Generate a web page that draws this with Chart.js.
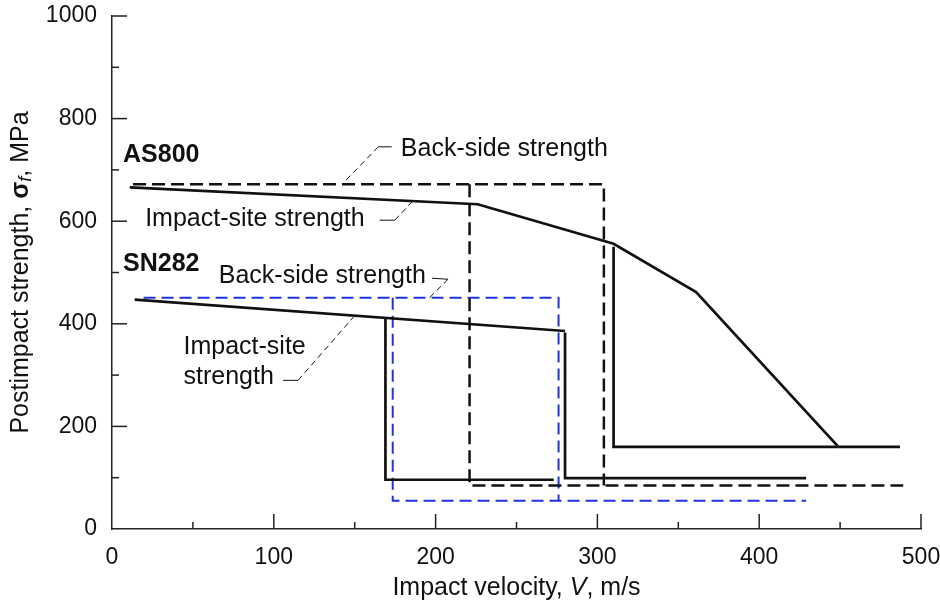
<!DOCTYPE html>
<html>
<head>
<meta charset="utf-8">
<script src="https://cdn.jsdelivr.net/npm/chart.js@4"></script>
<style>
  html, body { margin: 0; padding: 0; background: #fff; }
  #wrap { width: 940px; height: 602px; }
</style>
</head>
<body>
<div id="wrap"><canvas id="strengthChart"></canvas></div>
<script>
// axis ticks
const xTicks = [0, 100, 200, 300, 400, 500];
const yTicks = [0, 200, 400, 600, 800, 1000];

// AS800 impact-site strength (solid)
const as800SiteV = [11, 226, 310, 361, 449, 487];
const as800SiteS = [666, 633, 556, 462, 160, 160];
const as800DropV = [310, 310, 449];
const as800DropS = [550, 160, 160];

// AS800 back-side strength (dashed)
const as800BackV = [13, 304, 304];
const as800BackS = [672, 672, 85];
const as800BackDropV = [221, 221, 489];
const as800BackDropS = [672, 85, 85];

// SN282 impact-site strength (solid)
const sn282SiteV = [14, 280];
const sn282SiteS = [447, 386];
const sn282Drop1V = [169, 169, 273];
const sn282Drop1S = [410, 96, 96];
const sn282Drop2V = [280, 280, 429];
const sn282Drop2S = [383, 99, 99];

// SN282 back-side strength (blue dashed)
const sn282BackV = [19.5, 276, 276];
const sn282BackS = [451, 451, 55];
const sn282BackDropV = [173.5, 173.5, 429];
const sn282BackDropS = [451, 55, 55];

// leader lines for the labels: stub + dashed diagonal
const leaderStubs = [
    [[172.9, 745], [164.6, 745]],
    [[165.4, 602], [174.8, 602]],
    [[197.8, 488.8], [207.7, 486.8]],
    [[105.7, 289.8], [115.0, 289.8]]
];
const leaderDiags = [
    [[164.6, 745], [143.6, 676.7]],
    [[174.8, 602], [185.3, 637.6]],
    [[207.7, 486.8], [195.9, 449.8]],
    [[115.0, 289.8], [149.3, 413.3]]
];

const FONT = '"Liberation Sans", Arial, Helvetica, sans-serif';
const BLACK = '#111111';
const BLUE = '#2233dd';

const labels = [
    { text: 'AS800', v: 6.8, s: 729, bold: true },
    { text: 'Back-side strength', v: 178.5, s: 740.5 },
    { text: 'Impact-site strength', v: 20.5, s: 604 },
    { text: 'SN282', v: 6.8, s: 516, bold: true },
    { text: 'Back-side strength', v: 66, s: 492.7 },
    { text: 'Impact-site', v: 44.2, s: 354 },
    { text: 'strength', v: 44.2, s: 295.6 }
];

function pts(xs, ys) {
    return xs.map((x, i) => ({ x: x, y: ys[i] }));
}

function line(xs, ys, color, width, dash) {
    return {
        data: pts(xs, ys),
        borderColor: color,
        borderWidth: width,
        borderDash: dash || [],
        pointRadius: 0,
        fill: false,
        tension: 0,
        borderCapStyle: 'butt',
        borderJoinStyle: 'miter'
    };
}

const datasets = [
    line(as800SiteV, as800SiteS, BLACK, 2.7),
    line(as800DropV, as800DropS, BLACK, 2.7),
    line(as800BackV, as800BackS, BLACK, 2.5, [13, 6]),
    line(as800BackDropV, as800BackDropS, BLACK, 2.5, [13, 6]),
    line(sn282SiteV, sn282SiteS, BLACK, 2.7),
    line(sn282Drop1V, sn282Drop1S, BLACK, 2.7),
    line(sn282Drop2V, sn282Drop2S, BLACK, 2.7),
    line(sn282BackV, sn282BackS, BLUE, 2, [12, 6]),
    line(sn282BackDropV, sn282BackDropS, BLUE, 2, [12, 6])
];
leaderStubs.forEach(l => datasets.push(line(l.map(p => p[0]), l.map(p => p[1]), BLACK, 1)));
leaderDiags.forEach(l => datasets.push(line(l.map(p => p[0]), l.map(p => p[1]), BLACK, 1, [6, 4])));

// inward major/minor tick marks
const tickMarks = {
    id: 'tickMarks',
    afterDraw(chart) {
        const { ctx, scales: { x, y } } = chart;
        ctx.save();
        ctx.strokeStyle = '#222';
        ctx.lineWidth = 1.5;
        for (let v = 50; v <= 500; v += 50) {
            const px = x.getPixelForValue(v);
            const len = v % 100 === 0 ? 15 : 7;
            ctx.beginPath();
            ctx.moveTo(px, y.bottom);
            ctx.lineTo(px, y.bottom - len);
            ctx.stroke();
        }
        for (let s = 100; s <= 1000; s += 100) {
            const py = y.getPixelForValue(s);
            const len = s % 200 === 0 ? 15 : 7;
            ctx.beginPath();
            ctx.moveTo(x.left, py);
            ctx.lineTo(x.left + len, py);
            ctx.stroke();
        }
        ctx.restore();
    }
};

function drawRich(ctx, parts, x, y, align) {
    let total = 0;
    parts.forEach(p => { ctx.font = p.font; total += ctx.measureText(p.t).width; });
    let cx = align === 'center' ? x - total / 2 : x;
    parts.forEach(p => {
        ctx.font = p.font;
        ctx.fillText(p.t, cx, y + (p.dy || 0));
        cx += ctx.measureText(p.t).width;
    });
}

const textLayer = {
    id: 'textLayer',
    afterDraw(chart) {
        const { ctx, scales: { x, y }, chartArea } = chart;
        ctx.save();
        ctx.fillStyle = BLACK;
        ctx.textBaseline = 'middle';
        ctx.textAlign = 'left';
        labels.forEach(l => {
            ctx.font = (l.bold ? 'bold ' : '') + '25px ' + FONT;
            ctx.fillText(l.text, x.getPixelForValue(l.v), y.getPixelForValue(l.s));
        });

        // x axis title
        drawRich(ctx, [
            { t: 'Impact velocity, ', font: '25px ' + FONT },
            { t: 'V', font: 'italic 25px ' + FONT },
            { t: ', m/s', font: '25px ' + FONT }
        ], (chartArea.left + chartArea.right) / 2, 588, 'center');

        // y axis title
        ctx.translate(21, (chartArea.top + chartArea.bottom) / 2);
        ctx.rotate(-Math.PI / 2);
        drawRich(ctx, [
            { t: 'Postimpact strength, ', font: '25px ' + FONT },
            { t: 'σ', font: 'bold 25px ' + FONT },
            { t: 'f', font: 'italic 18px ' + FONT, dy: 5 },
            { t: ', MPa', font: '25px ' + FONT }
        ], 0, 0, 'center');
        ctx.restore();
    }
};

new Chart(document.getElementById('strengthChart'), {
    type: 'line',
    data: { datasets },
    options: {
        responsive: true,
        maintainAspectRatio: false,
        animation: false,
        layout: { padding: { top: 16, right: 19, bottom: 0, left: 0 } },
        plugins: { legend: { display: false }, tooltip: { enabled: false } },
        scales: {
            x: {
                type: 'linear',
                min: 0,
                max: 500,
                afterFit: s => { s.height = 73; s.paddingLeft = 0; s.paddingRight = 0; },
                afterBuildTicks: s => { s.ticks = xTicks.map(v => ({ value: v })); },
                grid: { display: false, drawTicks: false },
                border: { display: true, color: '#222', width: 1.5 },
                ticks: { padding: 15, color: BLACK, maxRotation: 0, callback: v => String(v), font: { family: FONT, size: 23 } }
            },
            y: {
                type: 'linear',
                min: 0,
                max: 1000,
                afterFit: s => { s.width = 112; s.paddingTop = 0; s.paddingBottom = 0; },
                afterBuildTicks: s => { s.ticks = yTicks.map(v => ({ value: v })); },
                grid: { display: false, drawTicks: false },
                border: { display: true, color: '#222', width: 1.5 },
                ticks: { padding: 15, color: BLACK, callback: v => String(v), font: { family: FONT, size: 23 } }
            }
        }
    },
    plugins: [tickMarks, textLayer]
});
</script>
</body>
</html>
